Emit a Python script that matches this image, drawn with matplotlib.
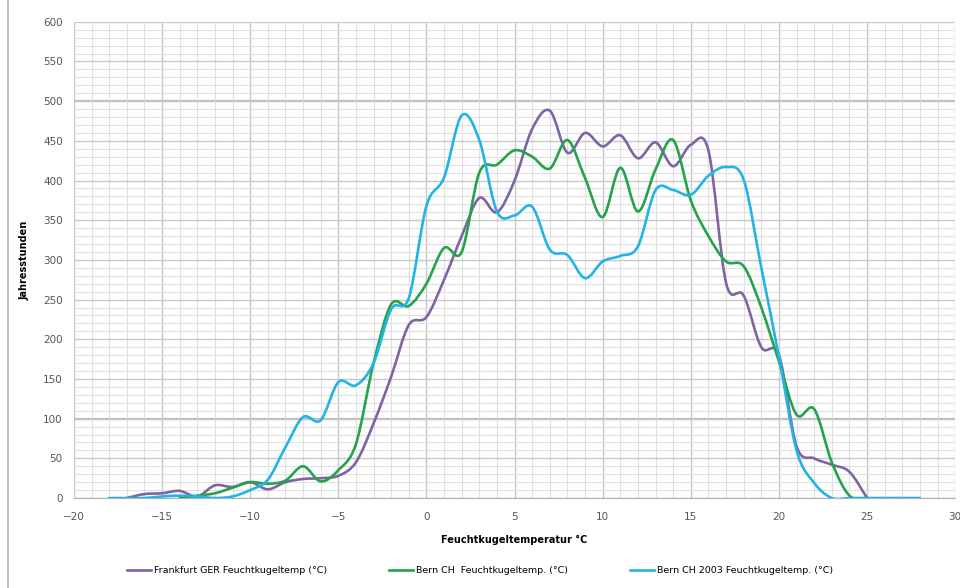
import numpy as np
import matplotlib
matplotlib.use("Agg")
import matplotlib.pyplot as plt
from matplotlib.path import Path
from matplotlib.patches import PathPatch
from matplotlib.lines import Line2D

plt.rcParams.update({'font.family': 'DejaVu Sans', 'font.size': 7})

# Daten
x_frankfurt = [-17, -16, -15, -14, -13, -12, -11, -10, -9, -8, -7, -6, -5, -4, -3, -2, -1, 0,
               1, 2, 3, 4, 5, 6, 7, 8, 9, 10, 11, 12, 13, 14, 15, 16, 17, 18, 19, 20, 21, 22, 23, 24, 25]
y_frankfurt = [0, 5, 6, 9, 2, 16, 14, 20, 11, 20, 24, 25, 28, 45, 94, 153, 218, 228,
               275, 330, 378, 360, 400, 465, 488, 435, 460, 443, 457, 428, 448, 418, 445, 438,
               271, 255, 190, 180, 65, 50, 42, 33, 0]

x_bern = [-14, -13, -12, -11, -10, -9, -8, -7, -6, -5, -4, -3, -2, -1, 0,
          1, 2, 3, 4, 5, 6, 7, 8, 9, 10, 11, 12, 13, 14, 15, 16, 17, 18, 19, 20, 21, 22, 23, 24, 25]
y_bern = [0, 3, 6, 13, 20, 18, 22, 40, 21, 35, 68, 170, 244, 242, 270,
          315, 310, 410, 420, 438, 430, 415, 451, 403, 354, 416, 361, 414, 451, 375,
          330, 298, 292, 240, 172, 105, 112, 45, 3, 0]

x_bern03 = [-18, -17, -16, -15, -14, -13, -12, -11, -10, -9, -8, -7, -6, -5, -4, -3, -2, -1, 0,
            1, 2, 3, 4, 5, 6, 7, 8, 9, 10, 11, 12, 13, 14, 15, 16, 17, 18, 19, 20, 21, 22,
            23, 24, 25, 26, 27, 28]
y_bern03 = [0, 0, 0, 2, 3, 2, 0, 2, 10, 23, 64, 102, 98, 146, 142, 170, 238, 252, 368,
            404, 482, 451, 361, 356, 367, 313, 306, 277, 298, 305, 317, 388, 388, 382, 406,
            417, 401, 290, 178, 60, 19, 0, 0, 0, 0, 0, 0]

labels = ["Frankfurt GER Feuchtkugeltemp (°C)", "Bern CH  Feuchtkugeltemp. (°C)",
          "Bern CH 2003 Feuchtkugeltemp. (°C)"]
farben = ["#8064a2", "#23a44c", "#22b4e6"]


# geglättete Linie (wie Excel) als Bezier-Pfad
def glatt(x, y):
    p = np.column_stack([x, y]).astype(float)
    pts = [p[0]]
    codes = [Path.MOVETO]
    n = len(p)
    for i in range(n - 1):
        p0 = p[i - 1] if i > 0 else p[i]
        p3 = p[i + 2] if i + 2 < n else p[i + 1]
        c1 = p[i] + (p[i + 1] - p0) / 6
        c2 = p[i + 1] - (p3 - p[i]) / 6
        pts += [c1, c2, p[i + 1]]
        codes += [Path.CURVE4] * 3
    return Path(pts, codes)


fig = plt.figure(figsize=(9.6, 5.88), dpi=100)
ax = fig.add_axes([0.077, 0.153, 0.918, 0.81])

ax.set_xlim(-20, 30)
ax.set_ylim(0, 600)
ax.set_xticks(np.arange(-20, 31, 5))
ax.set_yticks(np.arange(0, 601, 50))
ax.set_xticks(np.arange(-20, 31, 1), minor=True)
ax.set_yticks(np.arange(0, 601, 10), minor=True)
ax.grid(which='minor', color='#e0e0e0', lw=0.8)
ax.grid(which='major', color='#c8c8c8', lw=1.0)
for yv in [100, 500]:
    ax.axhline(yv, color='#b8b8b8', lw=1.6, zorder=0.5)
ax.set_axisbelow(True)
ax.tick_params(which='both', length=0, labelsize=7.5, labelcolor='#555555')
ax.tick_params(axis='y', pad=8)
ax.tick_params(axis='x', pad=10)
for s in ['top', 'right', 'left']:
    ax.spines[s].set_visible(False)
ax.spines['bottom'].set_color('#b0b0b0')

handles = []
for xs, ys, c, lab in zip([x_frankfurt, x_bern, x_bern03], [y_frankfurt, y_bern, y_bern03], farben, labels):
    ax.add_patch(PathPatch(glatt(xs, ys), fill=False, edgecolor=c, lw=1.9, capstyle='round',
                           joinstyle='round', zorder=3))
    handles.append(Line2D([], [], color=c, lw=1.9, label=lab))

ax.set_xlabel('Feuchtkugeltemperatur °C', fontsize=7, fontweight='bold', labelpad=9)
ax.set_ylabel('Jahresstunden', fontsize=7, fontweight='bold', labelpad=10)

fig.legend(handles=handles, loc='center', bbox_to_anchor=(0.5, 0.03), ncol=3, frameon=False,
           fontsize=6.8, handlelength=2.6, handletextpad=0.3, columnspacing=6.5)

fig.add_artist(Line2D([0.008, 0.008], [0, 1], color='#b0b0b0', lw=1.2))

fig.savefig('out.png', dpi=100)
